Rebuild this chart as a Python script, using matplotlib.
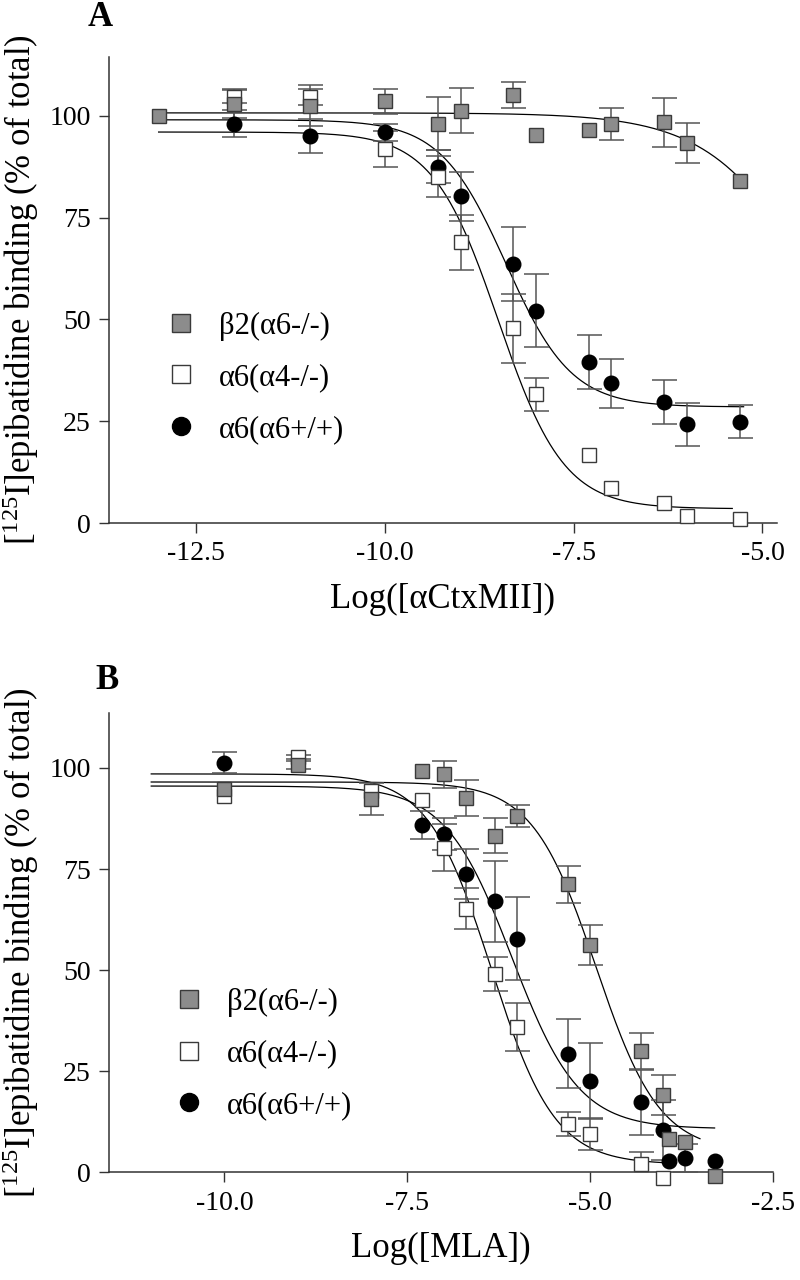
import numpy as np
import matplotlib
matplotlib.use('Agg')
import matplotlib.pyplot as plt
from matplotlib.lines import Line2D

plt.rcParams['font.family'] = ['Liberation Serif', 'DejaVu Serif']
plt.rcParams['mathtext.fontset'] = 'custom'
plt.rcParams['mathtext.rm'] = 'Liberation Serif'
plt.rcParams['mathtext.default'] = 'regular'
plt.rcParams['axes.unicode_minus'] = False

# ---- panel A : aCtxMII ----
a_x_b2 = [-13, -12, -11, -10, -9.3, -9, -8.3, -8, -7.3, -7, -6.3, -6, -5.3]
a_y_b2 = [100, 103, 102.5, 103.5, 98, 101.2, 105.1, 95.3, 96.6, 98, 98.4, 93.3, 83.9]
a_e_b2 = [0, 3.5, 5, 3, 6.5, 5.5, 3.3, 0, 0, 4, 6, 5, 0]

a_x_a4 = [-12, -11, -10, -9.3, -9, -8.3, -8, -7.3, -7, -6.3, -6, -5.3]
a_y_a4 = [104.7, 104.6, 91.8, 85, 68.9, 47.8, 31.6, 16.7, 8.7, 4.8, 1.7, 1.1]
a_e_a4 = [1.5, 2, 4.4, 5, 6.8, 8.5, 4, 0, 0, 0, 0, 0]

a_x_a6 = [-12, -11, -10, -9.3, -9, -8.3, -8, -7.3, -7, -6.3, -6, -5.3]
a_y_a6 = [98, 95, 95.9, 87.5, 80.2, 63.6, 52.1, 39.5, 34.3, 29.7, 24.2, 24.9]
a_e_a6 = [3.3, 4.2, 2, 4, 6, 9.2, 9, 6.7, 6, 5.4, 5.2, 4]

# fitted curves: top, bottom, logIC50, hill, x start, x end
a_fit_b2 = [100.7, 0, -4.1, 0.6, -13, -5.3]
a_fit_a4 = [96, 3.5, -8.5, 1.0, -13, -5.4]
a_fit_a6 = [99, 28.5, -8.4, 1.0, -13, -5.25]

# ---- panel B : MLA ----
b_x_b2 = [-10, -9, -8, -7.3, -7, -6.7, -6.3, -6, -5.3, -5, -4.3, -4, -3.92, -3.7, -3.3]
b_y_b2 = [94.7, 100.6, 92.3, 99.2, 98.4, 92.5, 83.2, 88.2, 71.2, 56.2, 30, 19.1, 8.2, 7.5, -0.8]
b_e_b2 = [0, 1, 4, 0, 3.3, 4.5, 4.3, 2.7, 4.5, 5, 4.5, 5, 0, 0, 0]

b_x_a4 = [-10, -9, -8, -7.3, -7, -6.7, -6.3, -6, -5.3, -5, -4.3, -4]
b_y_a4 = [93, 102.6, 94.2, 92, 80.3, 65.2, 49.1, 36, 12, 9.5, 2, -1.3]
b_e_a4 = [0, 0.5, 0, 0, 5.8, 5, 4.2, 6, 3, 4, 3, 0]

b_x_a6 = [-10, -7.3, -7, -6.7, -6.3, -6, -5.3, -5, -4.3, -4, -3.92, -3.7, -3.3]
b_y_a6 = [101.3, 85.9, 83.7, 73.8, 67, 57.8, 29.4, 22.6, 17.3, 10.5, 2.8, 3.5, 2.8]
b_e_a6 = [2.5, 3.5, 4, 6.2, 10, 10.2, 8.5, 9.5, 8, 7.5, 0, 3.5, 0]

b_fit_b2 = [96.5, 5, -4.92, 1.0, -11, -3.5]
b_fit_a4 = [98.5, 2, -6.35, 1.0, -11, -4.0]
b_fit_a6 = [95.5, 10.8, -6.07, 0.95, -11, -3.3]

labels = ['β2(α6-/-)', 'α6(α4-/-)', 'α6(α6+/+)']

gray = '#8c8c8c'
edge = '#3a3a3a'
ebar = '#555555'


def sigmoid(p):
    top, bot, c, h, x0, x1 = p
    x = np.linspace(x0, x1, 300)
    return x, bot + (top - bot) / (1 + 10 ** (h * (x - c)))


def draw_panel(ax, series, fits):
    for p in fits:
        xc, yc = sigmoid(p)
        ax.plot(xc, yc, color='black', lw=0.9, zorder=2)
    styles = [dict(marker='o', mfc='black', mec='black', ms=10.5, z=4),
              dict(marker='s', mfc='white', mec=edge, ms=10, z=5),
              dict(marker='s', mfc=gray, mec=edge, ms=10, z=6)]
    # draw order: black circles, white squares, gray squares on top
    for (x, y, e), st in zip(series, styles):
        x, y, e = np.array(x), np.array(y), np.array(e)
        has = e > 0
        ax.errorbar(x[has], y[has], yerr=e[has], fmt='none', ecolor=ebar, elinewidth=1.1,
                    capsize=9, capthick=1.1, zorder=3)
        ax.plot(x, y, ls='none', marker=st['marker'], mfc=st['mfc'], mec=st['mec'],
                mew=1.0, ms=st['ms'], zorder=st['z'], clip_on=False)
    for s in ['top', 'right']:
        ax.spines[s].set_visible(False)
    for s in ['left', 'bottom']:
        ax.spines[s].set_color('#333333')
        ax.spines[s].set_linewidth(1.1)
    ax.set_yticks([0, 25, 50, 75, 100])
    ax.tick_params(direction='out', length=7, width=1.0, color='#333333',
                   labelsize=20, pad=6)
    ax.set_ylabel(r'[$^{125}$I]epibatidine binding (% of total)', fontsize=25, labelpad=6)


def add_legend(ax, anchor):
    handles = [Line2D([], [], ls='none', marker='s', mfc=gray, mec=edge, ms=12.5, mew=1.0),
               Line2D([], [], ls='none', marker='s', mfc='white', mec=edge, ms=12.5, mew=1.0),
               Line2D([], [], ls='none', marker='o', mfc='black', mec='black', ms=13)]
    ax.legend(handles, labels, loc='center left', bbox_to_anchor=anchor, frameon=False,
              fontsize=22, handlelength=1.0, handletextpad=0.75, borderpad=0,
              borderaxespad=0, labelspacing=0.74)


fig = plt.figure(figsize=(8, 12.8), dpi=100)

axA = fig.add_axes([0.136, 0.5914, 0.835, 0.364])
draw_panel(axA, [(a_x_a6, a_y_a6, a_e_a6), (a_x_a4, a_y_a4, a_e_a4), (a_x_b2, a_y_b2, a_e_b2)],
           [a_fit_b2, a_fit_a4, a_fit_a6])
axA.set_xlim(-13.66, -4.81)
axA.set_ylim(0, 114.4)
axA.set_xticks([-12.5, -10.0, -7.5, -5.0])
axA.set_xticklabels(['-12.5', '-10.0', '-7.5', '-5.0'])
axA.set_xlabel('Log([αCtxMII])', fontsize=25, labelpad=12)
add_legend(axA, (0.085, 0.312))

axB = fig.add_axes([0.136, 0.0840, 0.8304, 0.3588])
draw_panel(axB, [(b_x_a6, b_y_a6, b_e_a6), (b_x_a4, b_y_a4, b_e_a4), (b_x_b2, b_y_b2, b_e_b2)],
           [b_fit_b2, b_fit_a4, b_fit_a6])
axB.set_xlim(-11.58, -2.5)
axB.set_ylim(0, 113.5)
axB.set_xticks([-10.0, -7.5, -5.0, -2.5])
axB.set_xticklabels(['-10.0', '-7.5', '-5.0', '-2.5'])
axB.set_xlabel('Log([MLA])', fontsize=25, labelpad=12)
add_legend(axB, (0.097, 0.258))

fig.text(0.125, 0.986, 'A', fontsize=25, fontweight='bold', ha='center', va='center')
fig.text(0.134, 0.468, 'B', fontsize=25, fontweight='bold', ha='center', va='center')

fig.savefig('out.png', dpi=100)
